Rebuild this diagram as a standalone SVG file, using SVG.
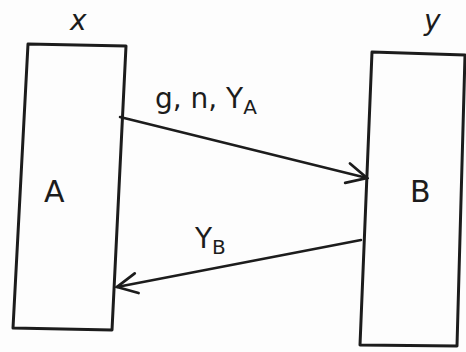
<svg xmlns="http://www.w3.org/2000/svg" width="466" height="352" viewBox="0 0 466 352">
<style>
.box{fill:none;stroke:#1c1c1c;stroke-width:3;stroke-linejoin:round}
.line{fill:none;stroke:#1c1c1c;stroke-width:2.5;stroke-linecap:round}
.t{font-family:"DejaVu Sans","Liberation Sans",sans-serif;fill:#1c1c1c}
</style>
<defs>
<marker id="ah" viewBox="0 0 20 20" refX="18" refY="10" markerWidth="10" markerHeight="10" orient="auto" markerUnits="strokeWidth">
<path d="M2,2 L18,10 L2,18" fill="none" stroke="#1c1c1c" stroke-width="2.2" stroke-linecap="round"/>
</marker>
</defs>
<rect width="466" height="352" fill="#fdfdfd"/>
<g id="nodeA">
<polygon class="box" points="28,44 126,46 112,330 13,328"/>
<text class="t" x="44" y="202" font-size="30">A</text>
<text class="t" x="70" y="30" font-size="28" font-style="italic">x</text>
</g>
<g id="nodeB">
<polygon class="box" points="372,52 465,55 457,346 360,345"/>
<text class="t" x="410" y="202" font-size="30">B</text>
<text class="t" x="424" y="30" font-size="28" font-style="italic">y</text>
</g>
<g id="connectors">
<line class="line" x1="120" y1="117" x2="367" y2="178" marker-end="url(#ah)"/>
<text class="t" x="155" y="108" font-size="28">g, n, Y<tspan font-size="20" dy="6">A</tspan></text>
<line class="line" x1="361" y1="240" x2="117" y2="287" marker-end="url(#ah)"/>
<text class="t" x="195" y="248" font-size="28">Y<tspan font-size="20" dy="6">B</tspan></text>
</g>
</svg>
